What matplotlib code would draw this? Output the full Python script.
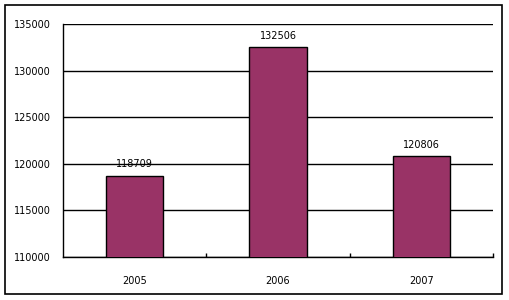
import matplotlib.pyplot as plt
from matplotlib.patches import Rectangle

years = ['2005', '2006', '2007']
values = [118709, 132506, 120806]
yticks = [110000, 115000, 120000, 125000, 130000, 135000]

fig = plt.figure(figsize=(5.09, 3.0), dpi=100)
ax = fig.add_axes([63 / 509, 43 / 300, 430 / 509, 233 / 300])

# outer frame of the chart
fig.patches.append(Rectangle((5 / 509, 6 / 300), 497 / 509, 289 / 300,
                             transform=fig.transFigure, fill=False,
                             edgecolor='black', linewidth=1.2))

x = range(len(years))
ax.bar(x, values, width=0.4, color='#993366', edgecolor='black',
       linewidth=1, zorder=3)
for i, v in enumerate(values):
    ax.text(i, v + 700, str(v), ha='center', va='bottom', fontsize=7)

ax.set_ylim(110000, 135000)
ax.set_xlim(-0.5, 2.5)
ax.set_yticks(yticks)
ax.set_yticklabels([str(t) for t in yticks], fontsize=7)
ax.yaxis.grid(True, color='black', linewidth=1)
ax.set_axisbelow(True)
ax.tick_params(axis='y', length=0, pad=9)

ax.set_xticks(x)
ax.set_xticklabels(years, fontsize=7)
ax.tick_params(axis='x', length=0, pad=14)
ax.set_xticks([0.5, 1.5, 2.5], minor=True)
ax.tick_params(axis='x', which='minor', length=3, direction='in', width=1)

for s in ['top', 'right']:
    ax.spines[s].set_visible(False)
ax.spines['left'].set_linewidth(1)
ax.spines['bottom'].set_linewidth(1)

fig.savefig('out.png', dpi=100)
